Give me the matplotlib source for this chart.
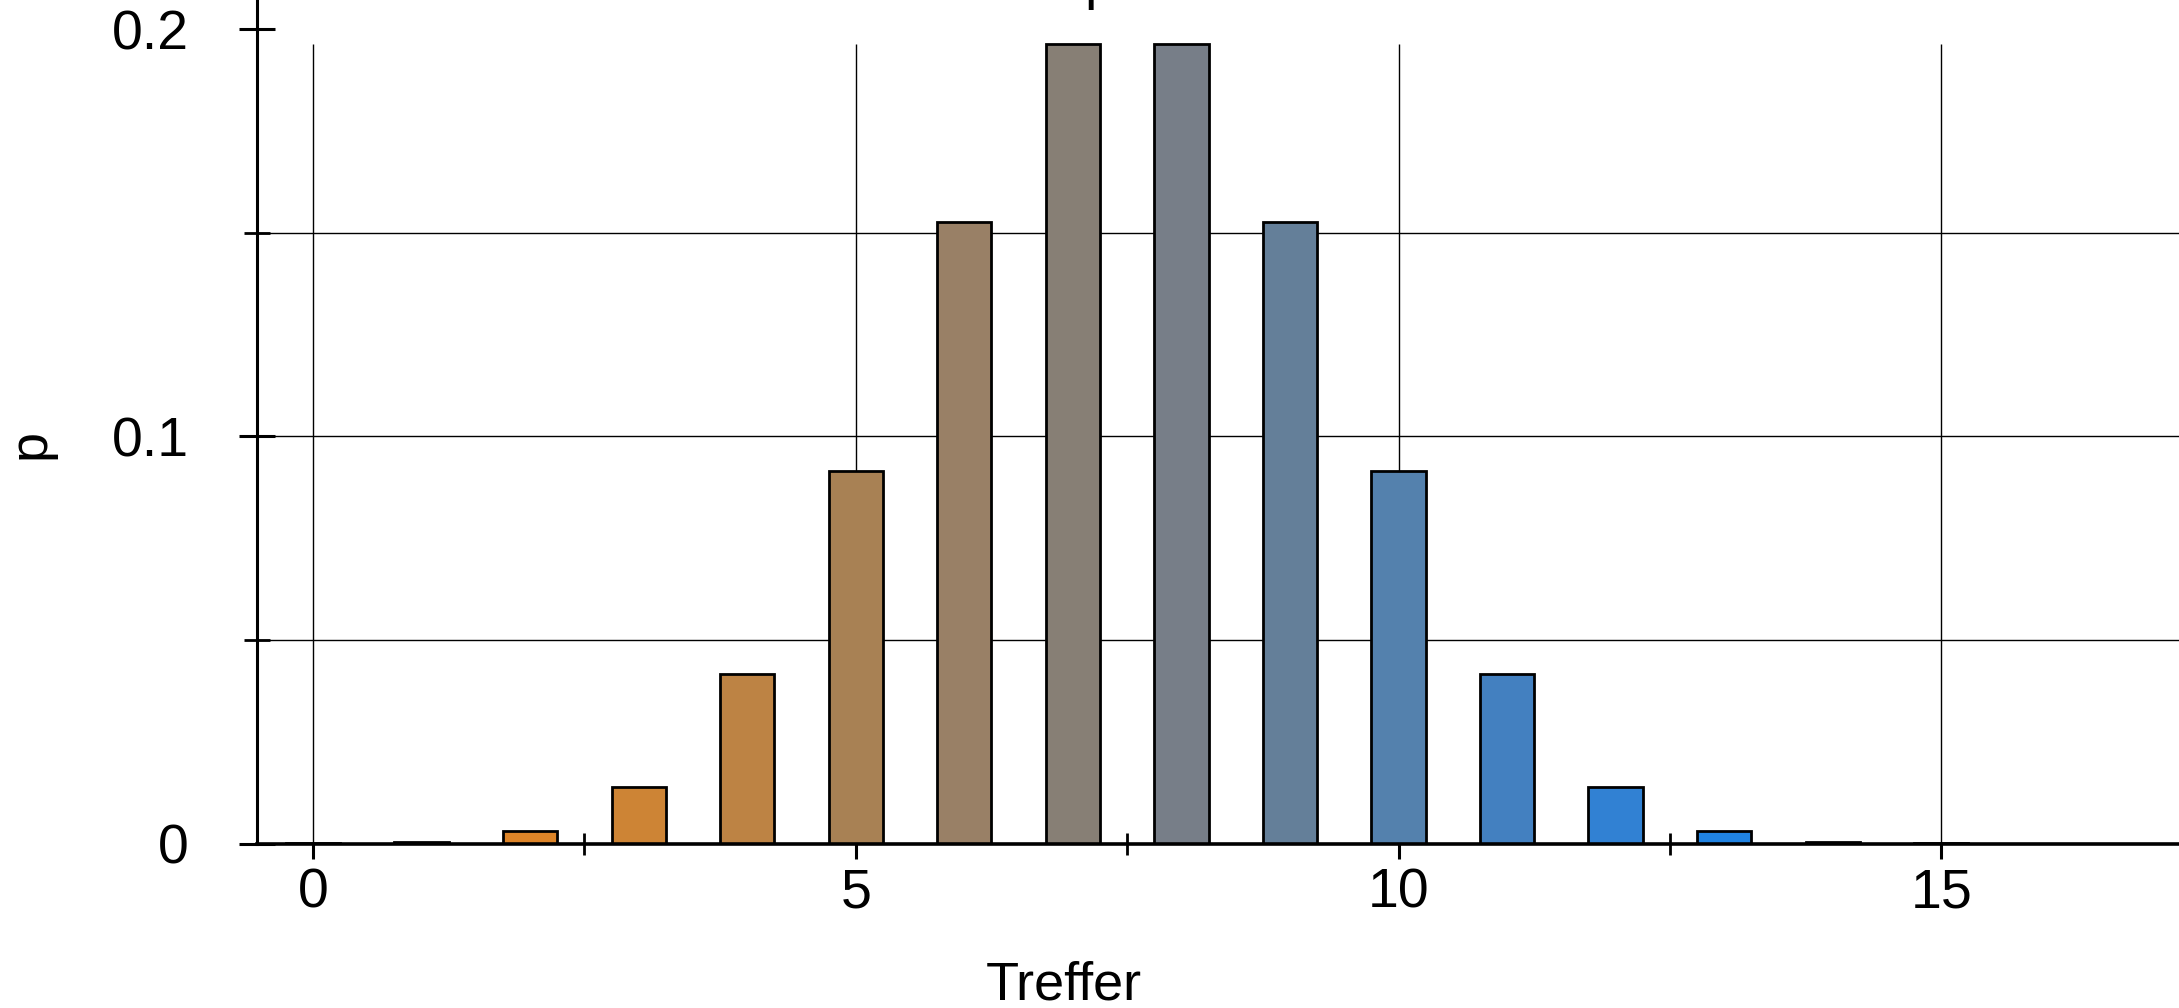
import numpy as np
import matplotlib
matplotlib.use("Agg")
import matplotlib.pyplot as plt
from matplotlib.ticker import FixedLocator

plt.rcParams['font.family'] = ['Liberation Sans', 'DejaVu Sans']

# Data
treffer = [0, 1, 2, 3, 4, 5, 6, 7, 8, 9, 10, 11, 12, 13, 14, 15]
p_values = [0.00003, 0.0005, 0.0032, 0.0139, 0.0417, 0.0916, 0.1527, 0.1964,
            0.1964, 0.1527, 0.0916, 0.0417, 0.0139, 0.0032, 0.0005, 0.00003]
bar_colors = ["#E4842A", "#E38529", "#DD8428", "#CD8435", "#BD8344", "#A88154",
              "#998066", "#877F75", "#777E88", "#647F99", "#5481AD", "#4380C0",
              "#3181D3", "#2083E2", "#1E84E6", "#1E84E6"]
x_major = [0, 5, 10, 15]
x_minor = [2.5, 7.5, 12.5]
y_major = [0, 0.1, 0.2]
y_minor = [0.05, 0.15]
y_tick_labels = ["0", "0.1", "0.2"]

fig = plt.figure(figsize=(21.79 / 2, 10.08 / 2), dpi=200)
ax = fig.add_axes([257 / 2179, (1008 - 843.6) / 1008, 1 - 257 / 2179, 843.6 / 1008])

# grid lines: vertical only up to the highest bar, horizontal at minor/major levels
ax.vlines(x_major, 0, max(p_values), color="black", linewidth=0.5, zorder=0.5)
ax.hlines([0.05, 0.1, 0.15], -0.6, 18, color="black", linewidth=0.5, zorder=0.5)

ax.bar(treffer, p_values, width=0.5, color=bar_colors, edgecolor="black",
       linewidth=1.0, zorder=2)

ax.set_xlim(-0.516, 17.19)
ax.set_ylim(0, 0.2072)

for s in ["top", "right"]:
    ax.spines[s].set_visible(False)
ax.spines["left"].set_linewidth(1.1)
ax.spines["bottom"].set_linewidth(1.3)
ax.spines["bottom"].set_zorder(3)

ax.xaxis.set_major_locator(FixedLocator(x_major))
ax.xaxis.set_minor_locator(FixedLocator(x_minor))
ax.yaxis.set_major_locator(FixedLocator(y_major))
ax.yaxis.set_minor_locator(FixedLocator(y_minor))
ax.set_yticklabels(y_tick_labels)

ax.tick_params(axis="x", which="major", direction="out", length=5.5, width=1.1,
               labelsize=20, pad=3)
ax.tick_params(axis="x", which="minor", direction="inout", length=8, width=1.0)
ax.tick_params(axis="y", which="major", direction="inout", length=13, width=1.1,
               labelsize=20, pad=18)
ax.tick_params(axis="y", which="minor", direction="inout", length=9.5, width=1.0)

ax.set_xlabel("Treffer", fontsize=19.5)
ax.xaxis.set_label_coords((1064 - 257) / 1922, -0.139)
ax.set_ylabel("p", fontsize=19.5)
ax.yaxis.set_label_coords(-0.105, 0.474)

# cut-off title at the very top of the picture
fig.text(1084 / 2179, 1.0 + 2 / 1008, "p", fontsize=20, ha="left", va="baseline")

fig.savefig("out.png", dpi=200)
